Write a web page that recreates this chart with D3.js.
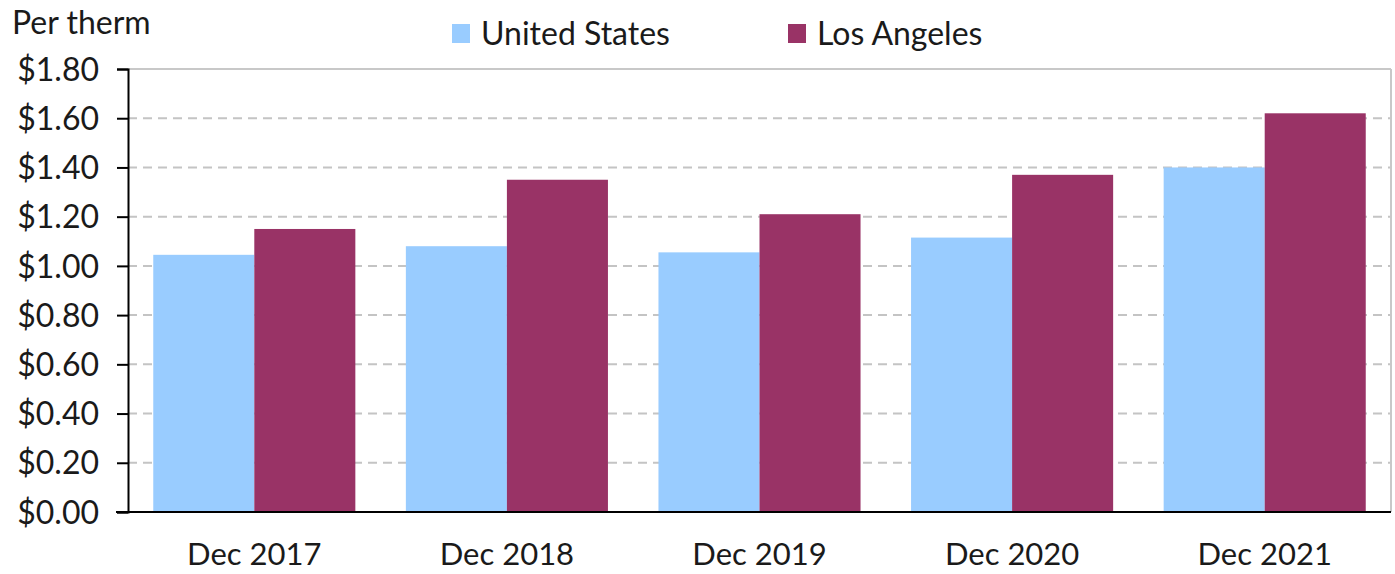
<!DOCTYPE html>
<html><head><meta charset="utf-8">
<script src="https://cdn.jsdelivr.net/npm/d3@7"></script>
<style>body{margin:0;background:#fff}svg{display:block}text{font-family:Lato,"Open Sans",sans-serif;fill:#1a1a1a}</style>
</head><body>
<svg id="c" width="1395" height="574"></svg>
<script>
const categories = ["Dec 2017","Dec 2018","Dec 2019","Dec 2020","Dec 2021"];
const seriesNames = ["United States","Los Angeles"];
const usValues = [1.045, 1.08, 1.055, 1.115, 1.40];
const laValues = [1.15, 1.35, 1.21, 1.37, 1.62];
const yTicks = [0,0.2,0.4,0.6,0.8,1.0,1.2,1.4,1.6,1.8];
const colors = ["#99CCFF","#993366"];

const svg = d3.select("#c");
const L=128, R=1391, T=69, B=512;
const x = d3.scaleBand().domain(categories).range([L,R]).paddingInner(0.2).paddingOuter(0.1);
const xs = d3.scaleBand().domain(seriesNames).range([0,x.bandwidth()]);
const y = d3.scaleLinear().domain([0,1.8]).range([B,T]);

// gridlines
svg.append("g").selectAll("line").data(yTicks.filter(t=>t>0 && t<1.8)).join("line")
  .attr("x1",L).attr("x2",R).attr("y1",d=>y(d)).attr("y2",d=>y(d))
  .attr("stroke","#c4c4c4").attr("stroke-width",2).attr("stroke-dasharray","9,6");
// frame top/right
svg.append("line").attr("x1",L).attr("x2",R).attr("y1",y(1.8)).attr("y2",y(1.8)).attr("stroke","#c8c8c8").attr("stroke-width",2);
svg.append("line").attr("x1",R).attr("x2",R).attr("y1",T).attr("y2",B).attr("stroke","#c8c8c8").attr("stroke-width",2);

// bars
const data = categories.map((c,i)=>({c, vals:[usValues[i], laValues[i]]}));
const g = svg.append("g").selectAll("g").data(data).join("g").attr("transform",d=>`translate(${x(d.c)},0)`);
g.selectAll("rect").data(d=>d.vals.map((v,j)=>({name:seriesNames[j],v,j}))).join("rect")
  .attr("x",d=>xs(d.name)).attr("width",xs.bandwidth())
  .attr("y",d=>y(d.v)).attr("height",d=>B-y(d.v)).attr("fill",d=>colors[d.j]);

// y axis
const yAxis = d3.axisLeft(y).tickValues(yTicks).tickFormat(d=>"$"+d.toFixed(2)).tickSize(11).tickPadding(18);
const ya = svg.append("g").attr("transform",`translate(${L},0)`).call(yAxis);
ya.select(".domain").attr("stroke","#000").attr("stroke-width",2);
ya.selectAll(".tick line").attr("stroke","#000").attr("stroke-width",2);
ya.selectAll("text").style("font-size","32px").attr("fill","#1a1a1a").attr("dy","0.35em");

// x axis
const xAxis = d3.axisBottom(x).tickSize(0).tickPadding(31);
const xa = svg.append("g").attr("transform",`translate(0,${B})`).call(xAxis);
xa.select(".domain").remove();
xa.selectAll("text").style("font-size","31px").attr("fill","#1a1a1a");
svg.append("line").attr("x1",116).attr("x2",R).attr("y1",B).attr("y2",B).attr("stroke","#000").attr("stroke-width",2);

// title
svg.append("text").attr("x",12).attr("y",34).style("font-size","32px").text("Per therm");

// legend
const legX=[452,788];
const lg = svg.append("g").selectAll("g").data(seriesNames).join("g").attr("transform",(d,i)=>`translate(${legX[i]},0)`);
lg.append("rect").attr("x",0).attr("y",24).attr("width",18).attr("height",19).attr("fill",(d,i)=>colors[i]);
lg.append("text").attr("x",29).attr("y",45).style("font-size","32px").text(d=>d);
</script>
</body></html>
